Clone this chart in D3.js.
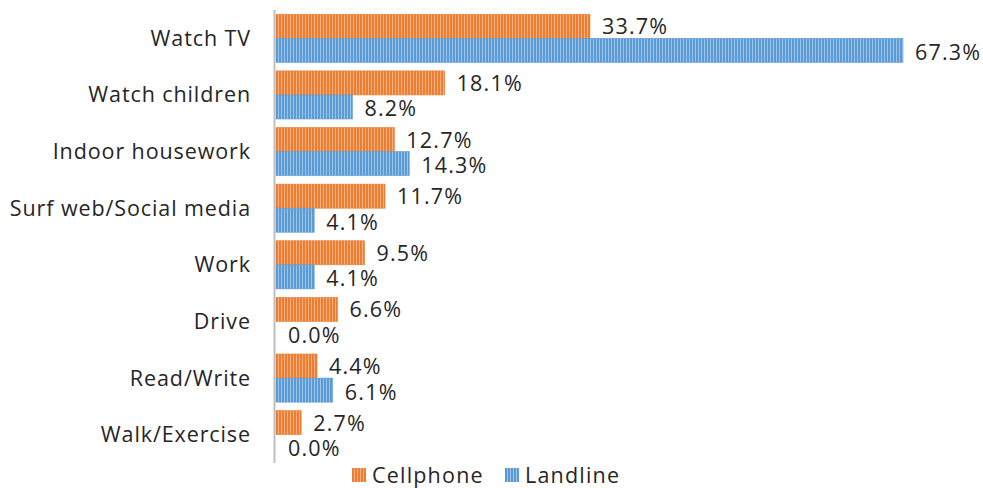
<!DOCTYPE html>
<html>
<head>
<meta charset="utf-8">
<script src="https://cdn.jsdelivr.net/npm/d3@7"></script>
<style>
  body { margin: 0; background: #fff; }
  text { font-family: "Open Sans", sans-serif; fill: #262626; letter-spacing: 1.2px; }
  text.cat { letter-spacing: 0.9px; }
</style>
</head>
<body>
<svg id="chart" width="983" height="488"></svg>
<script>
// activities and shares (%)
const categories = ["Watch TV", "Watch children", "Indoor housework", "Surf web/Social media",
  "Work", "Drive", "Read/Write", "Walk/Exercise"];
const cellphone = [33.7, 18.1, 12.7, 11.7, 9.5, 6.6, 4.4, 2.7];
const landline = [67.3, 8.2, 14.3, 4.1, 4.1, 0.0, 6.1, 0.0];
const seriesNames = ["Cellphone", "Landline"];
const seriesColors = ["#ED7D31", "#5B9BD5"];
const seriesLight = ["#F4B183", "#9DC3E6"];

const svg = d3.select("#chart");
const x0 = 276;
const fs = 21.5;

const x = d3.scaleLinear().domain([0, 67.3]).range([x0, 903]);
const y = d3.scaleBand().domain(categories).range([10, 463]).paddingInner(0.15).paddingOuter(0.075);
const sub = d3.scaleBand().domain(seriesNames).range([0, y.bandwidth()]);

// vertical stripe patterns
const defs = svg.append("defs");
seriesNames.forEach((s, i) => {
  const p = defs.append("pattern")
      .attr("id", "pat" + i)
      .attr("patternUnits", "userSpaceOnUse")
      .attr("width", 3).attr("height", 3);
  p.append("rect").attr("width", 3).attr("height", 3).attr("fill", seriesColors[i]);
  p.append("rect").attr("x", 2).attr("width", 1).attr("height", 3).attr("fill", seriesLight[i]);
});

const data = categories.map((c, k) => ({ cat: c, vals: [cellphone[k], landline[k]] }));

const g = svg.append("g");
const rows = g.selectAll("g.row")
  .data(data)
  .join("g")
    .attr("class", "row")
    .attr("transform", d => `translate(0,${y(d.cat)})`);

rows.selectAll("rect")
  .data(d => d.vals.map((v, i) => ({ v, i })))
  .join("rect")
    .attr("x", x0)
    .attr("y", d => sub(seriesNames[d.i]))
    .attr("width", d => x(d.v) - x0)
    .attr("height", sub.bandwidth())
    .attr("fill", d => `url(#pat${d.i})`)
    .attr("stroke", d => seriesColors[d.i])
    .attr("stroke-width", 0.6);

// labels sit a little apart so the pair does not collide
const nudge = [0.5, 2];
rows.selectAll("text.val")
  .data(d => d.vals.map((v, i) => ({ v, i })))
  .join("text")
    .attr("class", "val")
    .attr("x", d => x(d.v) + 12)
    .attr("y", d => sub(seriesNames[d.i]) + sub.bandwidth() / 2 + nudge[d.i])
    .attr("dy", "0.35em")
    .attr("font-size", fs)
    .text(d => d.v.toFixed(1) + "%");

// category labels
g.selectAll("text.cat")
  .data(categories)
  .join("text")
    .attr("class", "cat")
    .attr("x", 251)
    .attr("y", d => y(d) + y.bandwidth() / 2)
    .attr("dy", "0.35em")
    .attr("text-anchor", "end")
    .attr("font-size", fs)
    .text(d => d);

// axis line
svg.append("line")
    .attr("x1", 274.5).attr("x2", 274.5)
    .attr("y1", 10).attr("y2", 463)
    .attr("stroke", "#BFBFBF").attr("stroke-width", 2);

// legend
const legX = [352, 505];
const leg = svg.append("g").selectAll("g")
  .data(seriesNames)
  .join("g")
    .attr("transform", (d, i) => `translate(${legX[i]},468)`);
leg.append("rect")
    .attr("width", 14).attr("height", 14)
    .attr("fill", (d, i) => `url(#pat${i})`);
leg.append("text")
    .attr("x", 20).attr("y", 7)
    .attr("dy", "0.35em")
    .attr("font-size", fs)
    .text(d => d);
</script>
</body>
</html>
